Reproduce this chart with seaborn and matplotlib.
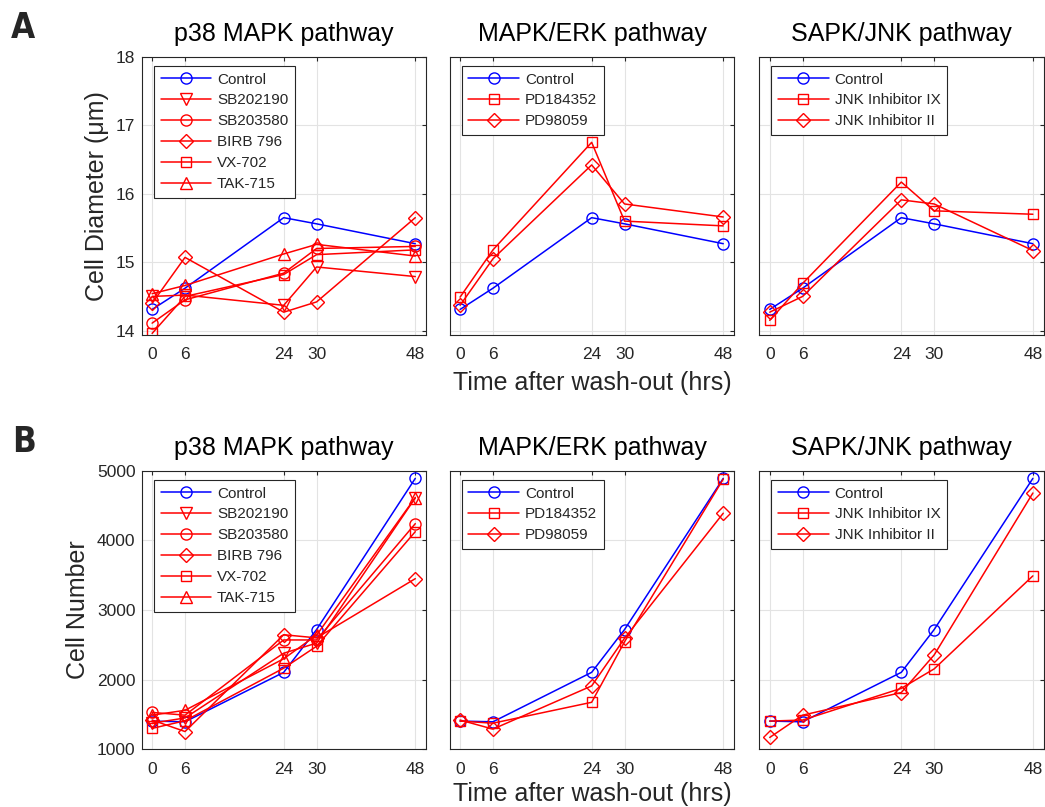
import matplotlib
matplotlib.use("Agg")
import matplotlib.pyplot as plt
import seaborn as sns
import pandas as pd

# ---------------- data ----------------
hours = [0, 6, 24, 30, 48]
time_ticks = [0, 6, 24, 30, 48]

titles = ["p38 MAPK pathway", "MAPK/ERK pathway", "SAPK/JNK pathway"]

p38_names = ["Control", "SB202190", "SB203580", "BIRB 796", "VX-702", "TAK-715"]
erk_names = ["Control", "PD184352", "PD98059"]
jnk_names = ["Control", "JNK Inhibitor IX", "JNK Inhibitor II"]

# Cell diameter (um)
diam_control = [14.31, 14.62, 15.65, 15.56, 15.27]
diam_sb202190 = [14.50, 14.52, 14.37, 14.93, 14.79]
diam_sb203580 = [14.11, 14.45, 14.84, 15.20, 15.23]
diam_birb796 = [14.40, 15.07, 14.27, 14.42, 15.65]
diam_vx702 = [13.96, 14.50, 14.82, 15.11, 15.18]
diam_tak715 = [14.54, 14.66, 15.12, 15.26, 15.09]
diam_pd184352 = [14.49, 15.18, 16.75, 15.60, 15.53]
diam_pd98059 = [14.37, 15.05, 16.42, 15.85, 15.66]
diam_jnk_ix = [14.15, 14.69, 16.17, 15.75, 15.70]
diam_jnk_ii = [14.27, 14.50, 15.91, 15.85, 15.17]

# Cell number
num_control = [1405, 1395, 2105, 2720, 4890]
num_sb202190 = [1375, 1450, 2380, 2525, 4610]
num_sb203580 = [1530, 1490, 2570, 2570, 4240]
num_birb796 = [1420, 1255, 2645, 2600, 3450]
num_vx702 = [1300, 1410, 2165, 2480, 4125]
num_tak715 = [1490, 1560, 2300, 2640, 4615]
num_pd184352 = [1405, 1375, 1675, 2545, 4880]
num_pd98059 = [1420, 1290, 1910, 2595, 4390]
num_jnk_ix = [1405, 1420, 1875, 2155, 3490]
num_jnk_ii = [1170, 1490, 1815, 2355, 4680]

diam_yticks = [14, 15, 16, 17, 18]
num_yticks = [1000, 2000, 3000, 4000, 5000]

# ---------------- styles ----------------
style = {
    "Control": ("#0000ff", "o", 8),
    "SB202190": ("#ff0000", "v", 8.5),
    "SB203580": ("#ff0000", "o", 8),
    "BIRB 796": ("#ff0000", "D", 7),
    "VX-702": ("#ff0000", "s", 7.5),
    "TAK-715": ("#ff0000", "^", 8.5),
    "PD184352": ("#ff0000", "s", 7.5),
    "PD98059": ("#ff0000", "D", 7),
    "JNK Inhibitor IX": ("#ff0000", "s", 7.5),
    "JNK Inhibitor II": ("#ff0000", "D", 7),
}

diam_data = [
    [diam_control, diam_sb202190, diam_sb203580, diam_birb796, diam_vx702, diam_tak715],
    [diam_control, diam_pd184352, diam_pd98059],
    [diam_control, diam_jnk_ix, diam_jnk_ii],
]
num_data = [
    [num_control, num_sb202190, num_sb203580, num_birb796, num_vx702, num_tak715],
    [num_control, num_pd184352, num_pd98059],
    [num_control, num_jnk_ix, num_jnk_ii],
]
names = [p38_names, erk_names, jnk_names]

sns.set_style("white")
plt.rcParams['font.family'] = ['Liberation Sans', 'DejaVu Sans']
plt.rcParams['axes.edgecolor'] = '#262626'
plt.rcParams['axes.linewidth'] = 0.8

fig = plt.figure(figsize=(10.45, 8.07), dpi=100)

lefts = [0.1356, 0.4303, 0.7266]
width = 0.2723
rows = [(0.5849, 0.3448), (0.0715, 0.3452)]
row_data = [diam_data, num_data]
row_ylim = [(13.937, 18), (1000, 5000)]
row_yticks = [diam_yticks, num_yticks]
row_ylabel = ["Cell Diameter (\u03bcm)", "Cell Number"]
row_xlabelpad = [6, 3.5]

for r in range(2):
    bottom, height = rows[r]
    for c in range(3):
        ax = fig.add_axes([lefts[c], bottom, width, height])
        for name, vals in zip(names[c], row_data[r][c]):
            col, mk, ms = style[name]
            df = pd.DataFrame({"hours": hours, "value": vals})
            sns.lineplot(data=df, x="hours", y="value", ax=ax, color=col,
                         marker=mk, markersize=ms, markerfacecolor="none",
                         markeredgecolor=col, markeredgewidth=1.0,
                         linewidth=1.1, label=name)
        ax.set_xlim(-1.9, 50)
        ax.set_ylim(*row_ylim[r])
        ax.set_xticks(time_ticks)
        ax.set_yticks(row_yticks[r])
        ax.grid(True, color="#e3e3e3", linewidth=0.8)
        ax.set_axisbelow(True)
        ax.tick_params(direction="in", top=True, right=True, length=3,
                       width=0.8, colors="#262626", labelsize=12.5)
        ax.tick_params(axis="x", pad=9)
        ax.tick_params(axis="y", pad=4.5)
        ax.set_title(titles[c], fontsize=18, pad=11, color="#000000")
        if c == 0:
            ax.set_ylabel(row_ylabel[r], fontsize=18, labelpad=5)
        else:
            ax.set_ylabel("")
            ax.tick_params(labelleft=False)
        if c == 1:
            ax.set_xlabel("Time after wash-out (hrs)", fontsize=18,
                          labelpad=row_xlabelpad[r])
        else:
            ax.set_xlabel("")
        for sp in ax.spines.values():
            sp.set_visible(True)
            sp.set_color("#262626")
            sp.set_linewidth(0.8)
        leg = ax.legend(loc="upper left", bbox_to_anchor=(0.042, 0.968),
                        borderaxespad=0, fontsize=11, handlelength=3.3,
                        handletextpad=0.4, labelspacing=0.45, borderpad=0.45,
                        fancybox=False, framealpha=1, edgecolor="#262626",
                        numpoints=1)
        leg.get_frame().set_linewidth(0.8)

fig.text(0.0102, 0.9525, "A", fontsize=25, fontweight="bold",
         fontstretch="condensed", family=["DejaVu Sans"], va="baseline")
fig.text(0.0115, 0.4399, "B", fontsize=25, fontweight="bold",
         fontstretch="condensed", family=["DejaVu Sans"], va="baseline")

fig.savefig("out.png", dpi=100)
